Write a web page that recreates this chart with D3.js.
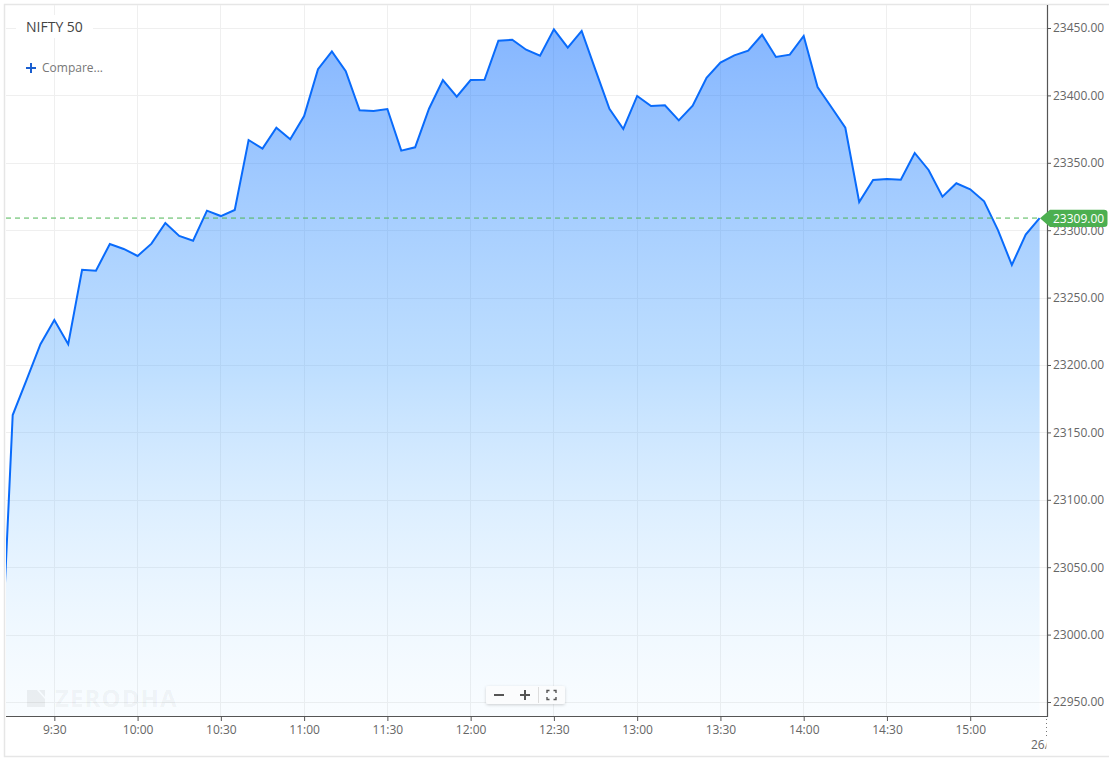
<!DOCTYPE html>
<html><head><meta charset="utf-8">
<script src="https://cdn.jsdelivr.net/npm/d3@7/dist/d3.min.js"></script>
<style>html,body{margin:0;padding:0;background:#fff;overflow:hidden}svg{display:block;font-family:"Open Sans",sans-serif}</style>
</head><body><svg id="c" width="1109" height="758"></svg>
<script>
const times = ["9:10","9:15","9:20","9:25","9:30","9:35","9:40","9:45","9:50","9:55",
"10:00","10:05","10:10","10:15","10:20","10:25","10:30","10:35","10:40","10:45","10:50","10:55",
"11:00","11:05","11:10","11:15","11:20","11:25","11:30","11:35","11:40","11:45","11:50","11:55",
"12:00","12:05","12:10","12:15","12:20","12:25","12:30","12:35","12:40","12:45","12:50","12:55",
"13:00","13:05","13:10","13:15","13:20","13:25","13:30","13:35","13:40","13:45","13:50","13:55",
"14:00","14:05","14:10","14:15","14:20","14:25","14:30","14:35","14:40","14:45","14:50","14:55",
"15:00","15:05","15:10","15:15","15:20","15:25"];
const prices = [22938,23162.9,23188.9,23215.4,23233.4,23215.4,23270.7,23270,23289.8,23286.1,
23280.9,23290,23305.3,23295.7,23292.2,23314.5,23310.5,23315,23366.9,23360.5,23376,23367.4,
23384.7,23419.4,23432.7,23417.9,23388.9,23388.4,23389.9,23359,23361.5,23390.1,23411.4,23399,
23411.4,23411.6,23440.6,23441.3,23433.9,23429.5,23449,23435.4,23447.8,23418.8,23390.1,23375.1,
23399.6,23392.1,23392.7,23381.5,23392.4,23413.1,23424.3,23429.7,23433.2,23445,23428.5,23430.2,
23444.1,23406.2,23391.2,23376,23320.9,23337.2,23338,23337.5,23357.3,23344.7,23324.9,23334.8,
23330.3,23321.4,23300.1,23274.2,23296.7,23309];
const xTicks = ["9:30","10:00","10:30","11:00","11:30","12:00","12:30","13:00","13:30","14:00","14:30","15:00"];
const yTicks = [22950,23000,23050,23100,23150,23200,23250,23300,23350,23400,23450];
const lastPrice = 23309;
const title = "NIFTY 50", compareLabel = "Compare...", watermark = "ZERODHA", dateStub = "26/06";

const parse = d3.timeParse("%H:%M"), fmt = d3.timeFormat("%-H:%M");
const data = times.map((t,i)=>({t:parse(t),v:prices[i]}));
const x = d3.scaleTime().domain([parse("9:15"),parse("15:25")]).range([12.7,1039.6]);
const y = d3.scaleLinear().domain([22950,23450]).range([702,28]);
const L=6,R=1047,T=5,B=716;
const svg = d3.select("#c");
const defs = svg.append("defs");
defs.append("clipPath").attr("id","plot").append("rect").attr("x",L).attr("y",T).attr("width",R-L).attr("height",B-T);
defs.append("clipPath").attr("id","stub").append("rect").attr("x",1000).attr("y",735).attr("width",46.5).attr("height",20);
const g = defs.append("linearGradient").attr("id","fill").attr("gradientUnits","userSpaceOnUse")
  .attr("x1",0).attr("x2",0).attr("y1",y(23450)).attr("y2",B);
[[0,"#0a6cff",.5],[.5,"#4da6ff",.36],[1,"#b4e0ff",.08]].forEach(s=>g.append("stop").attr("offset",s[0]).attr("stop-color",s[1]).attr("stop-opacity",s[2]));
const f = defs.append("filter").attr("id","sh").attr("x","-10%").attr("y","-20%").attr("width","120%").attr("height","150%");
f.append("feDropShadow").attr("dx",0).attr("dy",1).attr("stdDeviation",1.5).attr("flood-color","#000").attr("flood-opacity",.18);

// frame
svg.append("path").attr("d",`M1109 4.5H4.5V756.5H1109`).attr("fill","none").attr("stroke","#e6e6e6").attr("stroke-width",1.5);

// grid
const grid = svg.append("g").attr("stroke","#efefef").attr("stroke-width",1).attr("shape-rendering","crispEdges");
grid.selectAll(".h").data(yTicks).join("line").attr("x1",L).attr("x2",R).attr("y1",d=>Math.round(y(d))+.5).attr("y2",d=>Math.round(y(d))+.5);
grid.selectAll(".v").data(xTicks).join("line").attr("y1",T).attr("y2",B).attr("x1",d=>Math.floor(x(parse(d)))+.5).attr("x2",d=>Math.floor(x(parse(d)))+.5);

// title (masks grid)
svg.append("rect").attr("x",16).attr("y",15).attr("width",77).attr("height",23).attr("fill","#fff");
svg.append("text").attr("x",26).attr("y",32).attr("font-size",14).attr("fill","#444").text(title);
svg.append("path").attr("d","M26 68H36M31 63V73").attr("stroke","#1a5fd0").attr("stroke-width",2).attr("fill","none");
svg.append("text").attr("x",42).attr("y",72).attr("font-size",12).attr("fill","#777").text(compareLabel);

// series
const plot = svg.append("g").attr("clip-path","url(#plot)");
plot.append("path").attr("d",d3.area().x(d=>x(d.t)).y0(B).y1(d=>y(d.v))(data)).attr("fill","url(#fill)");
plot.append("path").attr("d",d3.line().x(d=>x(d.t)).y(d=>y(d.v))(data)).attr("fill","none").attr("stroke","#096bfb").attr("stroke-width",2).attr("stroke-linejoin","miter");

// watermark
const wm = svg.append("g").attr("fill","#000").attr("fill-opacity",.055);
wm.append("path").attr("d","M27 690H37L45 699V707H27Z");
wm.append("path").attr("d","M39 690H45V697Z");
wm.append("text").attr("x",55).attr("y",707).attr("font-size",24).attr("font-weight",700).attr("letter-spacing",1.1).text(watermark);

// last price line
svg.append("line").attr("x1",L).attr("x2",1041).attr("y1",y(lastPrice)).attr("y2",y(lastPrice))
  .attr("stroke","#4fb656").attr("stroke-dasharray","5,4");

// axes
const xAxis = d3.axisBottom(x).tickValues(xTicks.map(parse)).tickFormat(fmt).tickSize(5).tickSizeOuter(0).tickPadding(4);
const xg = svg.append("g").attr("transform",`translate(0,${B})`).call(xAxis);
xg.select(".domain").remove();
xg.selectAll("line").attr("stroke","#555");
xg.selectAll("text").attr("font-size",12).attr("fill","#666").attr("font-family","'Open Sans',sans-serif");
const yAxis = d3.axisRight(y).tickValues(yTicks).tickFormat(d3.format(".2f")).tickSize(4).tickPadding(2);
const yg = svg.append("g").attr("transform",`translate(${R},0)`).call(yAxis);
yg.select(".domain").remove();
yg.selectAll("line").attr("stroke","#555");
yg.selectAll("text").attr("font-size",12).attr("fill","#666").attr("font-family","'Open Sans',sans-serif");
svg.append("path").attr("d",`M${L} ${B+.5}H${R+.5}V${T}`).attr("fill","none").attr("stroke","#555").attr("stroke-width",1.2);

// date stub
svg.append("line").attr("x1",1046.5).attr("x2",1046.5).attr("y1",B+3).attr("y2",737).attr("stroke","#777").attr("stroke-dasharray","1,3");
svg.append("g").attr("clip-path","url(#stub)").append("text").attr("x",1031).attr("y",749).attr("font-size",12).attr("fill","#666").text(dateStub);

// last price tag
const ly = y(lastPrice)+.3;
svg.append("path").attr("d",`M1040 ${ly}L1050 ${ly-8.7}H1104Q1107.5 ${ly-8.7} 1107.5 ${ly-5.5}V${ly+5.5}Q1107.5 ${ly+8.7} 1104 ${ly+8.7}H1050Z`).attr("fill","#4caf50");
svg.append("text").attr("x",1053).attr("y",ly+4.3).attr("font-size",12).attr("fill","#fff").text(d3.format(".2f")(lastPrice));

// zoom controls
const z = svg.append("g");
z.append("rect").attr("x",486).attr("y",686).attr("width",79).attr("height",18).attr("rx",2).attr("fill","#fbfcfd").attr("filter","url(#sh)");
z.append("path").attr("d","M494 695H504M520 695H530M525 690V700").attr("stroke","#555").attr("stroke-width",2).attr("fill","none");
z.append("path").attr("d","M538.5 687V703").attr("stroke","#ddd").attr("fill","none");
z.append("path").attr("d","M547 693V690.5H549.5M553.5 690.5H556V693M556 697V699.5H553.5M549.5 699.5H547V697").attr("stroke","#555").attr("stroke-width",1.4).attr("fill","none");
</script></body></html>
